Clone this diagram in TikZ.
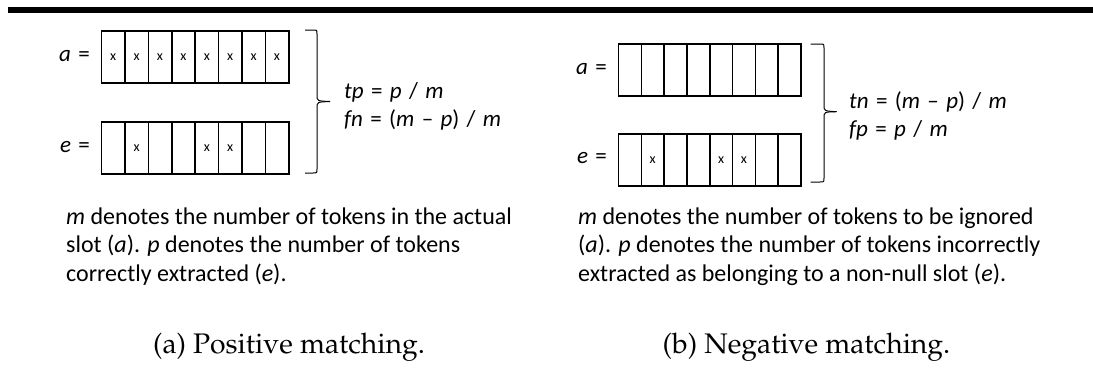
\documentclass[tikz,border=0pt]{standalone}
\usepackage{fontspec}
\setmainfont{Carlito}
\newcommand{\gapsp}{\hspace{0.32em}}
\begin{document}
\begin{tikzpicture}[x=1pt,y=-1pt,
  cell/.style={draw, line width=1.6pt, minimum width=23.4pt, minimum height=52pt,
    inner sep=0pt, anchor=north west, font=\fontsize{14}{14}\selectfont},
  lbl/.style={anchor=east, inner sep=0pt, font=\fontsize{23}{26}\selectfont},
  frm/.style={anchor=base west, inner sep=0pt, font=\fontsize{23}{26}\selectfont},
  para/.style={anchor=base west, inner sep=0pt, font=\fontsize{24}{28}\selectfont},
  capt/.style={anchor=base, inner sep=0pt,
    font=\fontencoding{T1}\fontfamily{ppl}\fontsize{28.3}{32}\selectfont},
  brace/.style={line width=1pt}]
\useasboundingbox (0,0) rectangle (1093,378);
% top rule
\fill (8,7.3) rectangle (1093,12.7);
% ---------- left panel ----------
\foreach \i/\t in {1/x,2/x,3/x,4/x,5/x,6/x,7/x,8/x}
  \node[cell] (la\i) at ({100.7+(\i-1)*23.4},30) {\t};
\foreach \i/\t in {1/,2/x,3/,4/,5/x,6/x,7/,8/}
  \node[cell] (le\i) at ({100.7+(\i-1)*23.4},121) {\t};
\node[lbl] (lal) at (90,56) {\textit{a}\gapsp=};
\node[lbl] (lel) at (90,147) {\textit{e}\gapsp=};
\draw[brace] (305,30) -- (313,30) .. controls (317,30) .. (317,34) -- (317,95)
  .. controls (317,101) .. (330,101.5);
\draw[brace] (305,173) -- (313,173) .. controls (317,173) .. (317,169) -- (317,108)
  .. controls (317,102) .. (330,101.5);
\node[frm] (ltp) at (344,98) {\textit{tp}\gapsp=\gapsp\textit{p}\gapsp/\gapsp\textit{m}};
\node[frm] (lfn) at (344,126) {\textit{fn}\gapsp=\gapsp(\textit{m}\gapsp\textendash\gapsp\textit{p})\gapsp/\gapsp\textit{m}};
\node[para] (lp1) at (66,224.3) {\textit{m} denotes the number of tokens in the actual};
\node[para] (lp2) at (66,252.7) {slot (\textit{a}). \textit{p} denotes the number of tokens};
\node[para] (lp3) at (66,281) {correctly extracted (\textit{e}).};
\node[capt] (lcap) at (289,353) {(a) Positive matching.};
% ---------- right panel ----------
\foreach \i in {1,...,8}
  \node[cell, minimum width=22.8pt] (ra\i) at ({617.7+(\i-1)*22.8},43.3) {};
\foreach \i/\t in {1/,2/x,3/,4/,5/x,6/x,7/,8/}
  \node[cell, minimum width=22.8pt] (re\i) at ({617.7+(\i-1)*22.8},133) {\t};
\node[lbl] (ral) at (607,69) {\textit{a}\gapsp=};
\node[lbl] (rel) at (607,158) {\textit{e}\gapsp=};
\draw[brace] (810.7,44) -- (820,44) .. controls (824,44) .. (824,48) -- (824,105)
  .. controls (824,111) .. (836.7,111.7);
\draw[brace] (810.7,182) -- (820,182) .. controls (824,182) .. (824,178) -- (824,118)
  .. controls (824,112) .. (836.7,111.7);
\node[frm] (rtn) at (849,108) {\textit{tn}\gapsp=\gapsp(\textit{m}\gapsp\textendash\gapsp\textit{p})\gapsp/\gapsp\textit{m}};
\node[frm] (rfp) at (849,136) {\textit{fp}\gapsp=\gapsp\textit{p}\gapsp/\gapsp\textit{m}};
\node[para] (rp1) at (578,224.3) {\textit{m} denotes the number of tokens to be ignored};
\node[para] (rp2) at (578,252.7) {(\textit{a}). \textit{p} denotes the number of tokens incorrectly};
\node[para] (rp3) at (578,281) {extracted as belonging to a non-null slot (\textit{e}).};
\node[capt] (rcap) at (806.5,353) {(b) Negative matching.};
\end{tikzpicture}
\end{document}
